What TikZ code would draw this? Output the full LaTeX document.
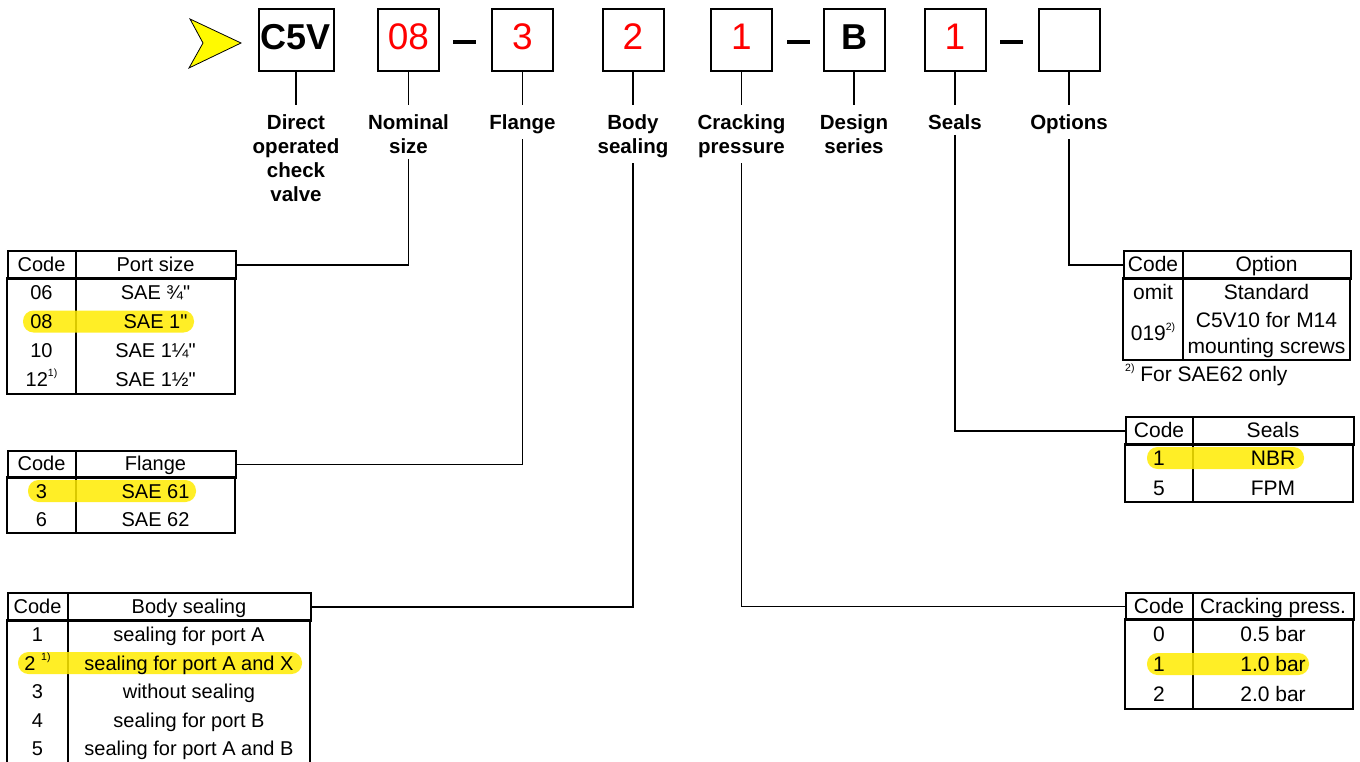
\documentclass[tikz,border=0pt]{standalone}
\usepackage{fontspec}
\setmainfont{Liberation Sans}[Ligatures=TeXOff]
\newcommand\fnote[1]{\raisebox{0.5em}{\fontsize{10.5}{10.5}\selectfont #1}}
\definecolor{hly}{RGB}{255,236,0}
\definecolor{redd}{RGB}{255,0,0}
\definecolor{arrowy}{RGB}{255,250,0}
\begin{document}
\begin{tikzpicture}[x=1pt,y=-1pt,
  cbox/.style={draw,line width=2pt,minimum width=61pt,minimum height=62pt,inner sep=0pt,text height=26pt,text depth=6pt},
  reddigit/.style={text=redd,font=\fontsize{37}{37}\selectfont},
  blk/.style={font=\bfseries\fontsize{36}{36}\selectfont},
  lab/.style={font=\bfseries\fontsize{20.5}{24}\selectfont,align=center,inner sep=0pt,anchor=north},
  conn/.style={line width=1.8pt},
  tline/.style={line width=1.8pt},
  thead/.style={draw,line width=1.8pt,inner sep=0pt,anchor=north west},
  cell/.style={inner sep=0pt,text height=14.5pt,text depth=0pt,font=\fontsize{20}{24}\selectfont},
  rcell/.style={inner sep=0pt,text height=15pt,text depth=0pt,font=\fontsize{21}{25}\selectfont},
  hl/.style={fill=hly,opacity=0.85,rounded corners=10.5pt},
  dashbar/.style={fill=black,minimum width=23pt,minimum height=4pt,inner sep=0pt}
]
\fill[white] (0,0) rectangle (1360,762);
\useasboundingbox (0,0) rectangle (1360,762);

% arrow
\draw[fill=arrowy,line width=0.8pt,line join=miter] (190,19) -- (241,43) -- (189,68) -- (203,43) -- cycle;

% code boxes
\node[cbox,minimum width=75pt,blk] (bC) at (296,40) {C5V};
\node[cbox,reddigit] (bN) at (408.5,40) {08};
\node[dashbar] (d1) at (464.5,42) {};
\node[cbox,reddigit] (bF) at (522.5,40) {3};
\node[cbox,reddigit] (bS) at (633,40) {2};
\node[cbox,reddigit] (bP) at (741.5,40) {1};
\node[dashbar] (d2) at (798.5,42) {};
\node[cbox,blk] (bD) at (854,40) {B};
\node[cbox,reddigit] (bE) at (955,40) {1};
\node[dashbar] (d3) at (1011.5,42) {};
\node[cbox] (bO) at (1069,40) {};

% labels
\node[lab] (lC) at (296,114.5) {Direct\\operated\\check\\valve};
\node[lab] (lN) at (408.5,114.5) {Nominal\\size};
\node[lab] (lF) at (522.5,114.5) {Flange};
\node[lab] (lS) at (633,114.5) {Body\\sealing};
\node[lab] (lP) at (741.5,114.5) {Cracking\\pressure};
\node[lab] (lD) at (854,114.5) {Design\\series};
\node[lab] (lE) at (955,114.5) {Seals};
\node[lab] (lO) at (1069,114.5) {Options};

\foreach \b/\l in {bC/lC,bN/lN,bF/lF,bS/lS,bP/lP,bD/lD,bE/lE,bO/lO}
  \draw[conn,shorten >=9.5pt] (\b.south) -- (\l.north);

% ---- Port size table
\node[thead,minimum width=228pt,minimum height=28pt] (pth) at (7,250) {};
\draw[tline] (7,278) rectangle (235,394);
\draw[tline] (76,250) -- (76,394);
\fill[hl] (23,310.5) rectangle (194,332.5);
\node[cell] (p0a) at (41.5,264) {Code};
\node[cell] (p0b) at (155.5,264) {Port size};
\node[cell] (p1a) at (41.5,292.5) {06};
\node[cell] (p1b) at (155.5,292.5) {SAE ¾"};
\node[cell] (p2a) at (41.5,321.5) {08};
\node[cell] (p2b) at (155.5,321.5) {SAE 1"};
\node[cell] (p3a) at (41.5,350.5) {10};
\node[cell] (p3b) at (155.5,350.5) {SAE 1¼"};
\node[cell] (p4a) at (41.5,379.5) {12\fnote{1)}};
\node[cell] (p4b) at (155.5,379.5) {SAE 1½"};

% ---- Flange table
\node[thead,minimum width=228pt,minimum height=27pt] (fth) at (7,450) {};
\draw[tline] (7,477) rectangle (235,533);
\draw[tline] (76,450) -- (76,533);
\fill[hl] (28,480) rectangle (196,502);
\node[cell] (f0a) at (41.5,463.5) {Code};
\node[cell] (f0b) at (155.5,463.5) {Flange};
\node[cell] (f1a) at (41.5,491) {3};
\node[cell] (f1b) at (155.5,491) {SAE 61};
\node[cell] (f2a) at (41.5,519) {6};
\node[cell] (f2b) at (155.5,519) {SAE 62};

% ---- Body sealing table
\node[thead,minimum width=303pt,minimum height=28pt] (bth) at (7,592) {};
\draw[tline] (7,620) rectangle (310,763);
\draw[tline] (68,592) -- (68,763);
\fill[hl] (18,652) rectangle (302,674);
\node[cell] (s0a) at (37.5,606) {Code};
\node[cell] (s0b) at (189,606) {Body sealing};
\node[cell] (s1a) at (37.5,634.3) {1};
\node[cell] (s1b) at (189,634.3) {sealing for port A};
\node[cell] (s2a) at (37.5,662.9) {2 \fnote{1)}};
\node[cell] (s2b) at (189,662.9) {sealing for port A and X};
\node[cell] (s3a) at (37.5,691.5) {3};
\node[cell] (s3b) at (189,691.5) {without sealing};
\node[cell] (s4a) at (37.5,720.1) {4};
\node[cell] (s4b) at (189,720.1) {sealing for port B};
\node[cell] (s5a) at (37.5,748.7) {5};
\node[cell] (s5b) at (189,748.7) {sealing for port A and B};

% ---- Options table
\node[thead,minimum width=227pt,minimum height=28pt] (oth) at (1123,250) {};
\draw[tline] (1123,278) rectangle (1350,360);
\draw[tline] (1183,250) -- (1183,360);
\node[rcell] (o0a) at (1153,264) {Code};
\node[rcell] (o0b) at (1266.5,264) {Option};
\node[rcell] (o1a) at (1153,292) {omit};
\node[rcell] (o1b) at (1266.5,292) {Standard};
\node[rcell] (o2a) at (1153,333) {019\fnote{2)}};
\node[rcell] (o2b) at (1266.5,320) {C5V10 for M14};
\node[rcell] (o2c) at (1266.5,346) {mounting screws};
\node[rcell,anchor=west] (ofn) at (1125,374) {\fnote{2)} For SAE62 only};

% ---- Seals table
\node[thead,minimum width=228pt,minimum height=28pt] (sth) at (1125,416) {};
\draw[tline] (1125,444) rectangle (1353,502);
\draw[tline] (1193,416) -- (1193,502);
\fill[hl] (1147,447) rectangle (1304,469);
\node[rcell] (e0a) at (1159,430) {Code};
\node[rcell] (e0b) at (1273,430) {Seals};
\node[rcell] (e1a) at (1159,458) {1};
\node[rcell] (e1b) at (1273,458) {NBR};
\node[rcell] (e2a) at (1159,488) {5};
\node[rcell] (e2b) at (1273,488) {FPM};

% ---- Cracking pressure table
\node[thead,minimum width=228pt,minimum height=27pt] (cth) at (1125,592) {};
\draw[tline] (1125,619) rectangle (1353,709);
\draw[tline] (1193,592) -- (1193,709);
\fill[hl] (1147,653) rectangle (1309,675);
\node[rcell] (c0a) at (1159,605.5) {Code};
\node[rcell] (c0b) at (1273,605.5) {Cracking press.};
\node[rcell] (c1a) at (1159,634) {0};
\node[rcell] (c1b) at (1273,634) {0.5 bar};
\node[rcell] (c2a) at (1159,663.5) {1};
\node[rcell] (c2b) at (1273,663.5) {1.0 bar};
\node[rcell] (c3a) at (1159,693.5) {2};
\node[rcell] (c3b) at (1273,693.5) {2.0 bar};

% ---- connectors from labels to tables
\draw[conn,shorten <=5pt] (lN.south) |- (pth.east);
\draw[conn,shorten <=5pt] (lF.south) |- (fth.east);
\draw[conn,shorten <=5pt] (lS.south) |- (bth.east);
\draw[conn,shorten <=5pt] (lP.south) |- (cth.west);
\draw[conn,shorten <=5pt] (lE.south) |- (sth.west);
\draw[conn,shorten <=5pt] (lO.south) |- (oth.west);
\end{tikzpicture}
\end{document}
